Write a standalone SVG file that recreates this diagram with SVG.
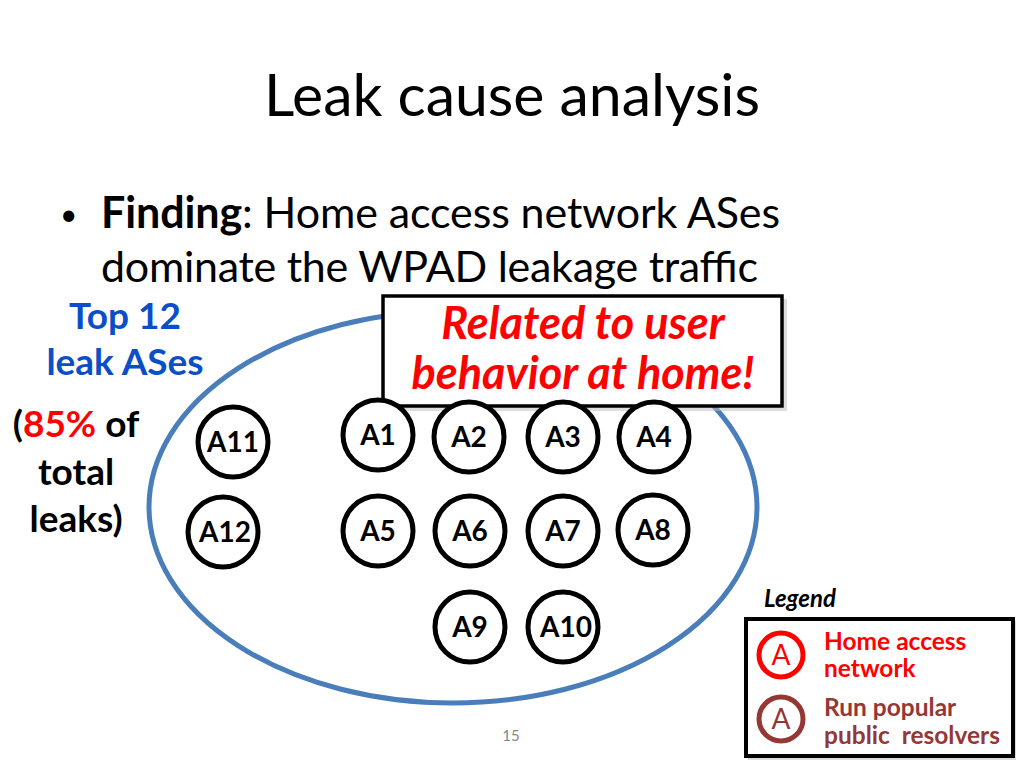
<svg xmlns="http://www.w3.org/2000/svg" width="1024" height="768" viewBox="0 0 1024 768">
<style>
  text { font-family: Lato, "Open Sans", "Liberation Sans", sans-serif; }
  .title { font-size: 59px; fill: #000; }
  .body { font-size: 43px; fill: #000; }
  .blue { font-size: 37px; font-weight: bold; fill: #0B4FC8; }
  .side { font-size: 37px; font-weight: bold; fill: #000; }
  .red { fill: #FF0000; }
  .node circle { fill: #fff; stroke: #000; stroke-width: 5; }
  .node text { font-size: 28px; font-weight: bold; fill: #000; text-anchor: middle; }
  .call { font-size: 45px; font-weight: bold; font-style: italic; fill: #FF0000; text-anchor: middle; }
  .leg { font-size: 24.5px; font-weight: bold; }
</style>
<rect width="1024" height="768" fill="#fff"/>
<text class="title" x="512" y="116" text-anchor="middle" textLength="496">Leak cause analysis</text>
<text x="60" y="225" font-size="30" fill="#000">•</text>
<text class="body" x="101" y="228" textLength="679"><tspan font-weight="bold">Finding</tspan>: Home access network ASes</text>
<text class="body" x="101" y="282" textLength="657">dominate the WPAD leakage traffic</text>
<text class="blue" x="125" y="329" text-anchor="middle">Top 12</text>
<text class="blue" x="125" y="375" text-anchor="middle">leak ASes</text>
<text class="side" x="76" y="437" text-anchor="middle">(<tspan class="red">85%</tspan> of</text>
<text class="side" x="76" y="485" text-anchor="middle">total</text>
<text class="side" x="76" y="532" text-anchor="middle">leaks)</text>

<g id="group-ellipse">
  <ellipse cx="453" cy="507" rx="304" ry="196" fill="none" stroke="#4A7EBB" stroke-width="5"/>
</g>

<g id="callout">
  <rect x="386" y="299" width="401" height="112" fill="#bbb" opacity="0.5"/>
  <rect x="383" y="296" width="399" height="110" fill="#fff" stroke="#000" stroke-width="3.5"/>
  <text class="call" x="583" y="339">Related to user</text>
  <text class="call" x="583" y="389">behavior at home!</text>
</g>

<g id="connectors"></g>

<g id="A1" class="node"><circle cx="378" cy="435" r="35"/><text x="378" y="445">A1</text></g>
<g id="A2" class="node"><circle cx="469" cy="437" r="35"/><text x="469" y="447">A2</text></g>
<g id="A3" class="node"><circle cx="563" cy="437" r="35"/><text x="563" y="447">A3</text></g>
<g id="A4" class="node"><circle cx="654" cy="437" r="35"/><text x="654" y="447">A4</text></g>
<g id="A5" class="node"><circle cx="378" cy="531" r="35"/><text x="378" y="541">A5</text></g>
<g id="A6" class="node"><circle cx="470" cy="531" r="35"/><text x="470" y="541">A6</text></g>
<g id="A7" class="node"><circle cx="563" cy="531" r="35"/><text x="563" y="541">A7</text></g>
<g id="A8" class="node"><circle cx="653" cy="530" r="35"/><text x="653" y="540">A8</text></g>
<g id="A9" class="node"><circle cx="470" cy="627" r="35"/><text x="470" y="637">A9</text></g>
<g id="A10" class="node"><circle cx="563" cy="627" r="35"/><text x="566" y="637">A10</text></g>
<g id="A11" class="node"><circle cx="233" cy="442" r="35"/><text x="233" y="452">A11</text></g>
<g id="A12" class="node"><circle cx="223" cy="532" r="35"/><text x="225" y="542">A12</text></g>

<text x="511" y="741" font-size="15" fill="#888" text-anchor="middle">15</text>

<g id="legend">
  <text x="764" y="607" font-size="24" font-weight="bold" font-style="italic" fill="#000">Legend</text>
  <rect x="748" y="621" width="268" height="139" fill="#bbb" opacity="0.5"/>
  <rect x="746" y="619" width="267" height="137" fill="#fff" stroke="#000" stroke-width="4"/>
  <circle cx="781" cy="655" r="22" fill="#fff" stroke="#FF0000" stroke-width="5"/>
  <text x="781" y="665" font-size="28" fill="#FF0000" text-anchor="middle">A</text>
  <circle cx="781" cy="719" r="22" fill="#fff" stroke="#953735" stroke-width="5"/>
  <text x="781" y="729" font-size="28" fill="#953735" text-anchor="middle">A</text>
  <text class="leg" x="824" y="650" fill="#FF0000">Home access</text>
  <text class="leg" x="824" y="677" fill="#FF0000">network</text>
  <text class="leg" x="824" y="716" fill="#953735">Run popular</text>
  <text class="leg" x="824" y="744" fill="#953735" xml:space="preserve">public  resolvers</text>
</g>
</svg>
